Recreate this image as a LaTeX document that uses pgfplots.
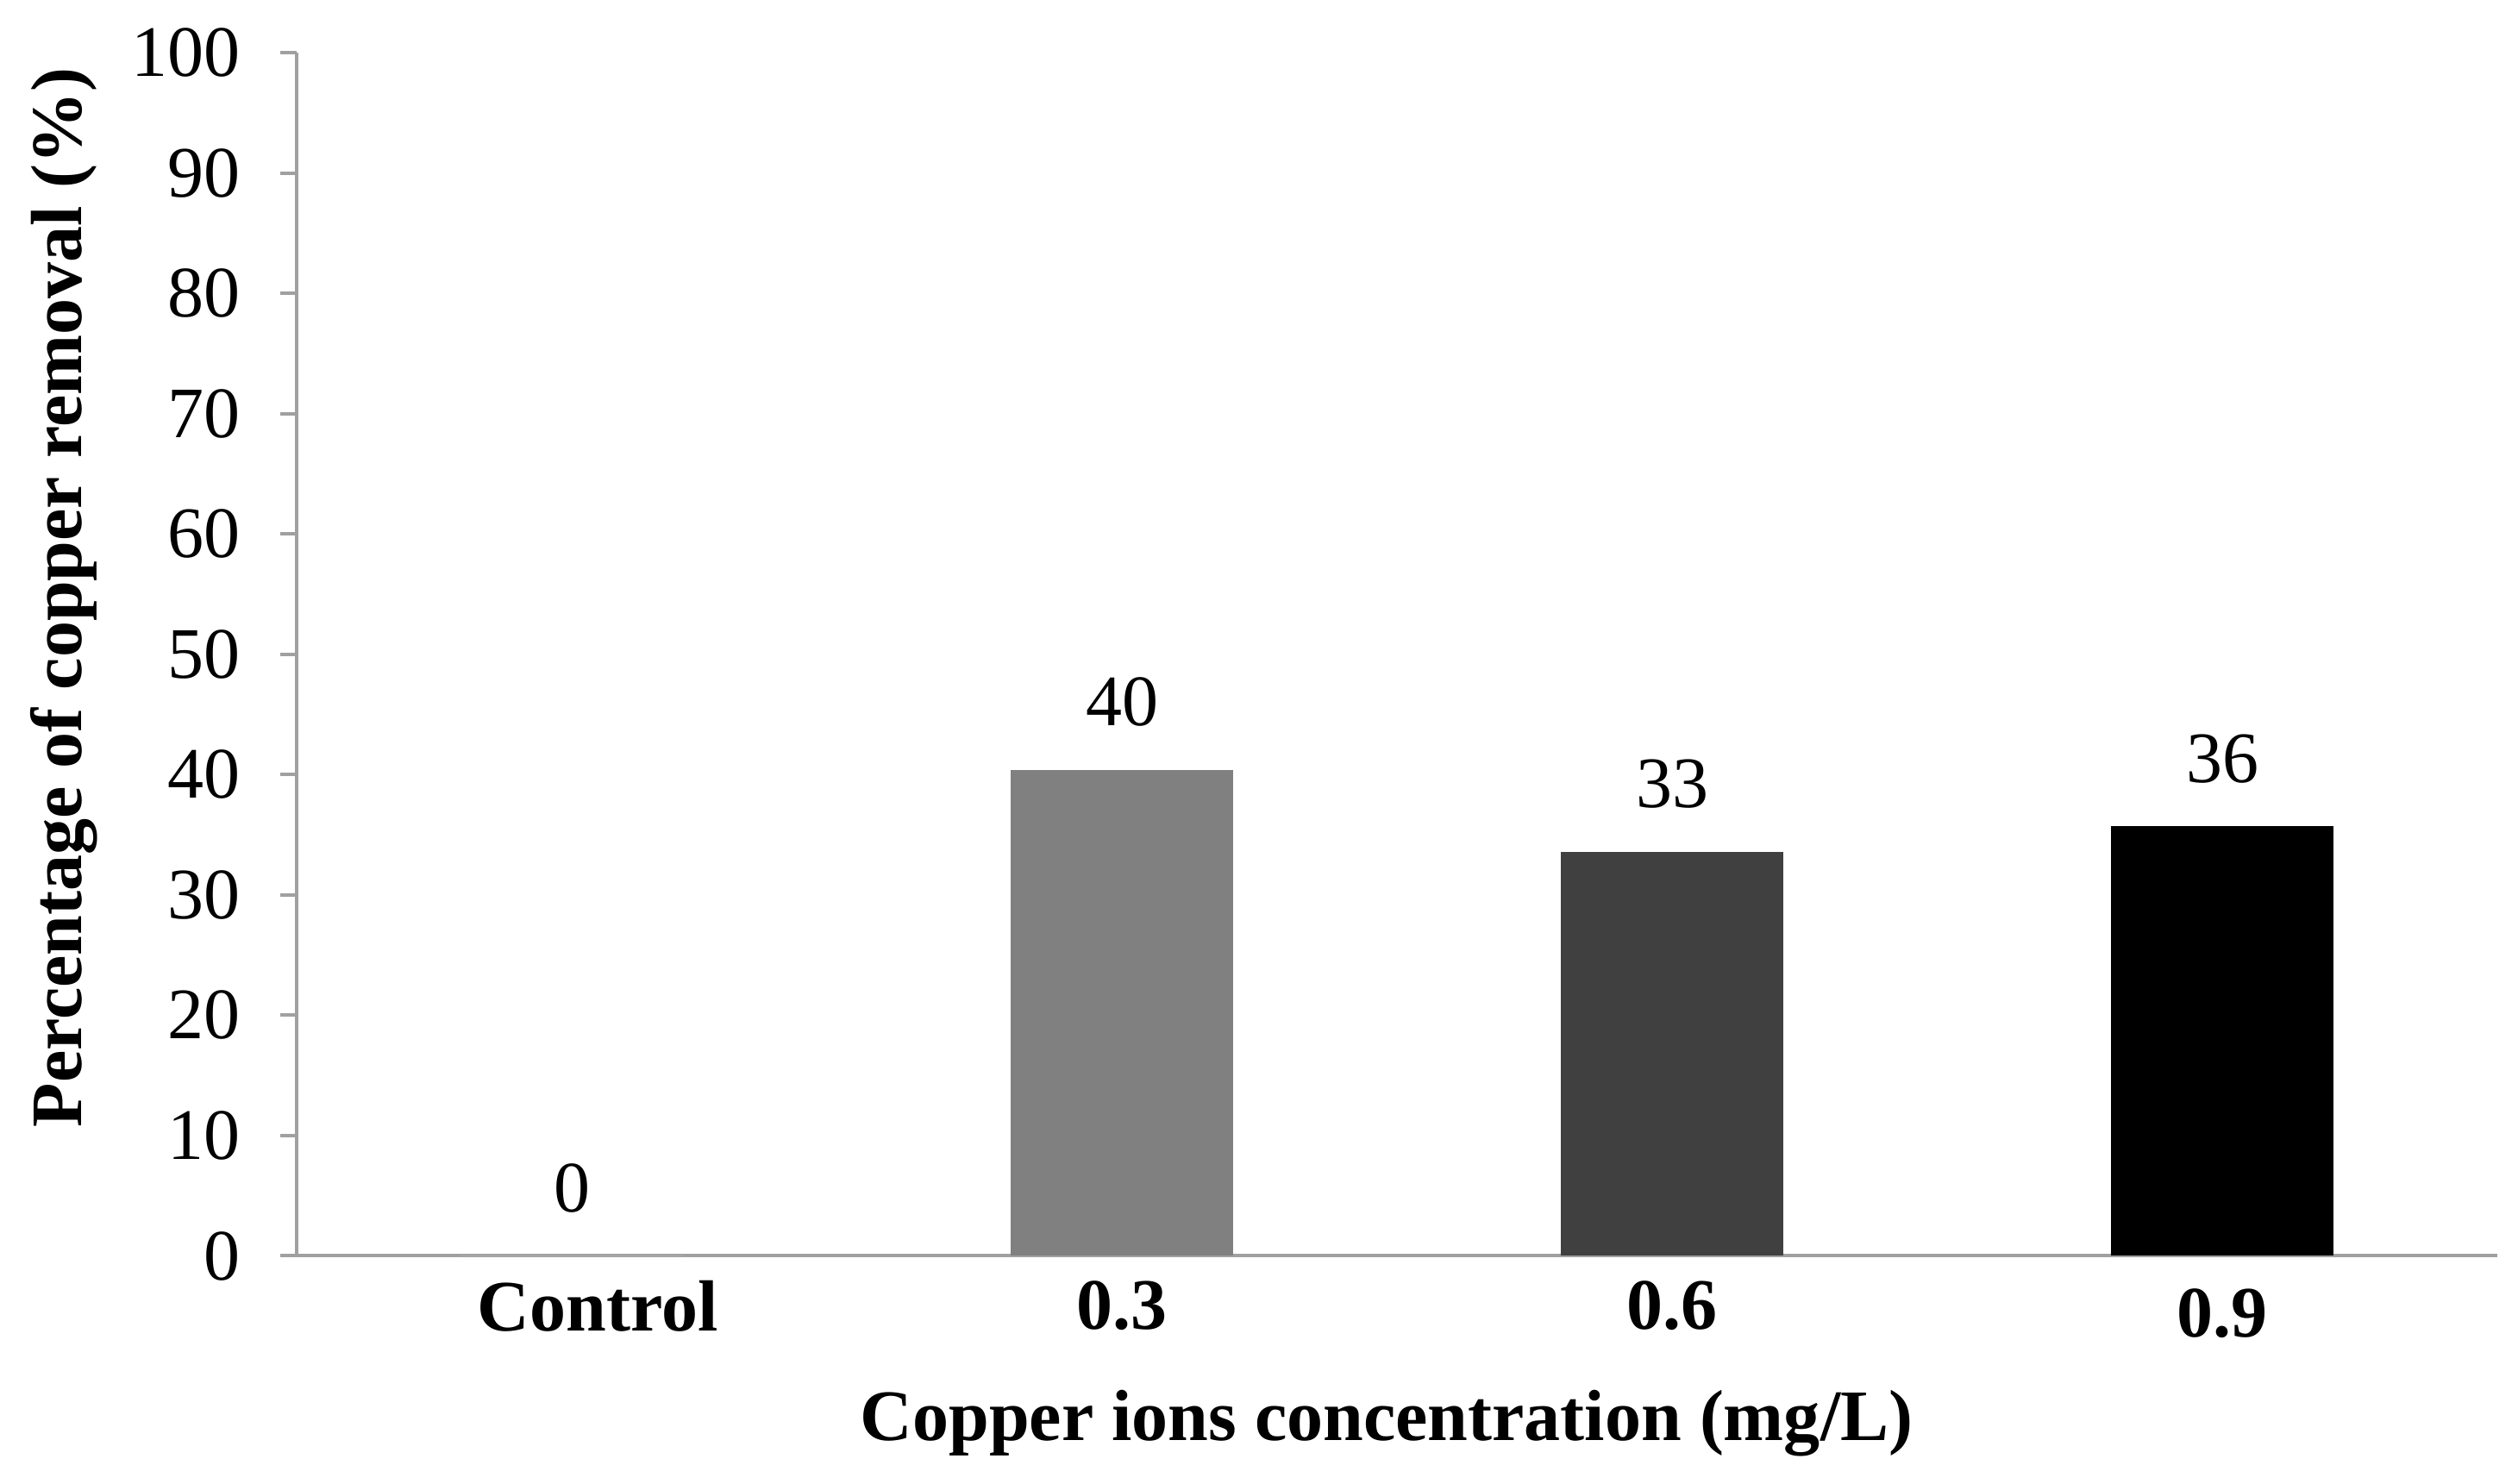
\documentclass[border=0pt]{standalone}
\usepackage{pgfplots}
\pgfplotsset{compat=1.18}
\usepackage{fontspec}
\setmainfont{Liberation Serif}
\definecolor{axgray}{RGB}{160,160,160}
\definecolor{barA}{RGB}{128,128,128}
\definecolor{barB}{RGB}{64,64,64}
\begin{document}
\begin{tikzpicture}
\begin{axis}[
  scale only axis,
  width=637.75pt, height=348.75pt,
  clip=false,
  font=\fontsize{21}{25}\selectfont,
  /pgf/number format/assume math mode=true,
  ymin=0, ymax=100, xmin=-0.5, xmax=3.5,
  ytick={0,10,...,100},
  xtick={0,1,2,3},
  xticklabels={\hspace*{15pt}Control,0.3,0.6,\raisebox{-2.3pt}[\height][0pt]{0.9}},
  minor xtick={-0.5,0.5,1.5,2.5,3.5},
  xtick style={draw=none},
  minor x tick style={axgray, line width=1pt},
  ytick style={axgray, line width=1pt},
  tick align=outside,
  major tick length=4.75pt,
  minor tick length=6pt,
  axis x line*=bottom, axis y line*=left,
  axis line style={axgray, line width=1pt, -},
  xticklabel style={font=\fontsize{21}{25}\selectfont\bfseries, yshift=1pt},
  yticklabel style={xshift=-8pt},
  ylabel={\bfseries Percentage of copper removal (\%)},
  xlabel={\bfseries Copper ions concentration (mg/L)},
  ylabel style={yshift=3pt, xshift=16.5pt},
  xlabel style={yshift=-10pt, xshift=-3pt},
  ybar, bar shift=0pt, bar width=0.405,
  nodes near coords,
  point meta=explicit symbolic,
  every node near coord/.append style={anchor=south, yshift=9pt, font=\fontsize{21}{25}\selectfont},
]
\addplot[draw=none, fill=white] coordinates {(0,0) [0]};
\addplot[draw=none, fill=barA] coordinates {(1,40.4) [40]};
\addplot[draw=none, fill=barB] coordinates {(2,33.6) [33]};
\addplot[draw=none, fill=black] coordinates {(3,35.7) [36]};
\path (rel axis cs:0,0) ++(-86pt,-66pt) (rel axis cs:1,1) ++(6pt,15.25pt);
\end{axis}
\end{tikzpicture}
\end{document}
